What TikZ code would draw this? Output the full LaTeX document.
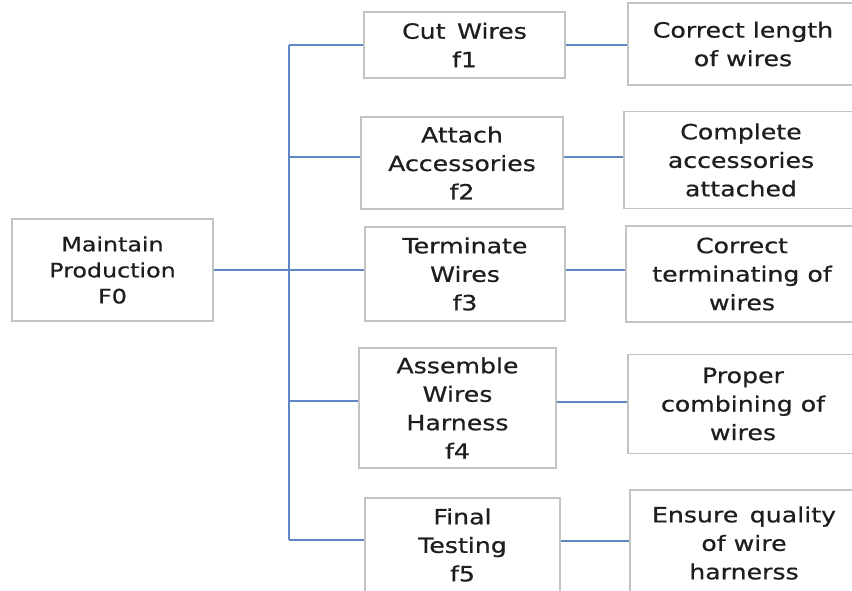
\documentclass[tikz,border=0pt]{standalone}
\usepackage{fontspec}
\setmainfont{DejaVu Sans}[FakeStretch=1.2,FakeBold=0.6]
\definecolor{linkblue}{RGB}{95,135,195}
\definecolor{boxgray}{RGB}{195,195,195}
\definecolor{txt}{RGB}{30,30,30}
\begin{document}
\begin{tikzpicture}[x=1pt,y=-1pt,
  box/.style={draw=boxgray,line width=1.6pt,fill=white,align=center,text=txt,
    inner sep=0pt,font=\fontsize{21}{28.5}\selectfont},
  link/.style={draw=linkblue,line width=2pt}]
\useasboundingbox[fill=white] (0,0) rectangle (852,590);
% left node
\node[box,minimum width=201,minimum height=102,font=\fontsize{19.8}{26}\selectfont] (F0) at (112.5,270) {Maintain\\Production\\F0};
% function nodes
\node[box,minimum width=201,minimum height=66] (f1) at (464.5,45) {Cut\,\ Wires\\f1};
\node[box,minimum width=202,minimum height=92] (f2) at (462,163) {Attach\\Accessories\\f2};
\node[box,minimum width=200,minimum height=94] (f3) at (465,274) {Terminate\\Wires\\f3};
\node[box,minimum width=197,minimum height=120] (f4) at (457.5,408) {Assemble\\Wires\\Harness\\f4};
\node[box,minimum width=195,minimum height=94] (f5) at (462.5,545) {Final\\Testing\\f5};
% result nodes
\node[box,minimum width=230,minimum height=82] (r1) at (743,44) {Correct length\\of wires};
\node[box,minimum width=234,minimum height=97] (r2) at (741,160) {Complete\\accessories\\attached};
\node[box,minimum width=232,minimum height=96] (r3) at (742,274) {Correct\\terminating of\\wires};
\node[box,minimum width=230,minimum height=99] (r4) at (743,404) {Proper\\combining of\\wires};
\node[box,minimum width=228,minimum height=106] (r5) at (744,543) {Ensure\,\ quality\\of wire\\harnerss};
% trunk
\draw[link] (289,45) -- (289,540);
\draw[link] (F0.east |- 0,270) -- (289,270);
\draw[link] (289,45) -- (f1.west |- 0,45);
\draw[link] (289,157) -- (f2.west |- 0,157);
\draw[link] (289,270) -- (f3.west |- 0,270);
\draw[link] (289,401) -- (f4.west |- 0,401);
\draw[link] (289,540) -- (f5.west |- 0,540);
% right links
\draw[link,line width=1.6pt] (f1.east |- 0,45) -- (r1.west |- 0,45);
\draw[link,line width=1.6pt] (f2.east |- 0,157) -- (r2.west |- 0,157);
\draw[link,line width=1.6pt] (f3.east |- 0,270) -- (r3.west |- 0,270);
\draw[link,line width=1.6pt] (f4.east |- 0,402) -- (r4.west |- 0,402);
\draw[link,line width=1.6pt] (f5.east |- 0,541) -- (r5.west |- 0,541);
\end{tikzpicture}
\end{document}
